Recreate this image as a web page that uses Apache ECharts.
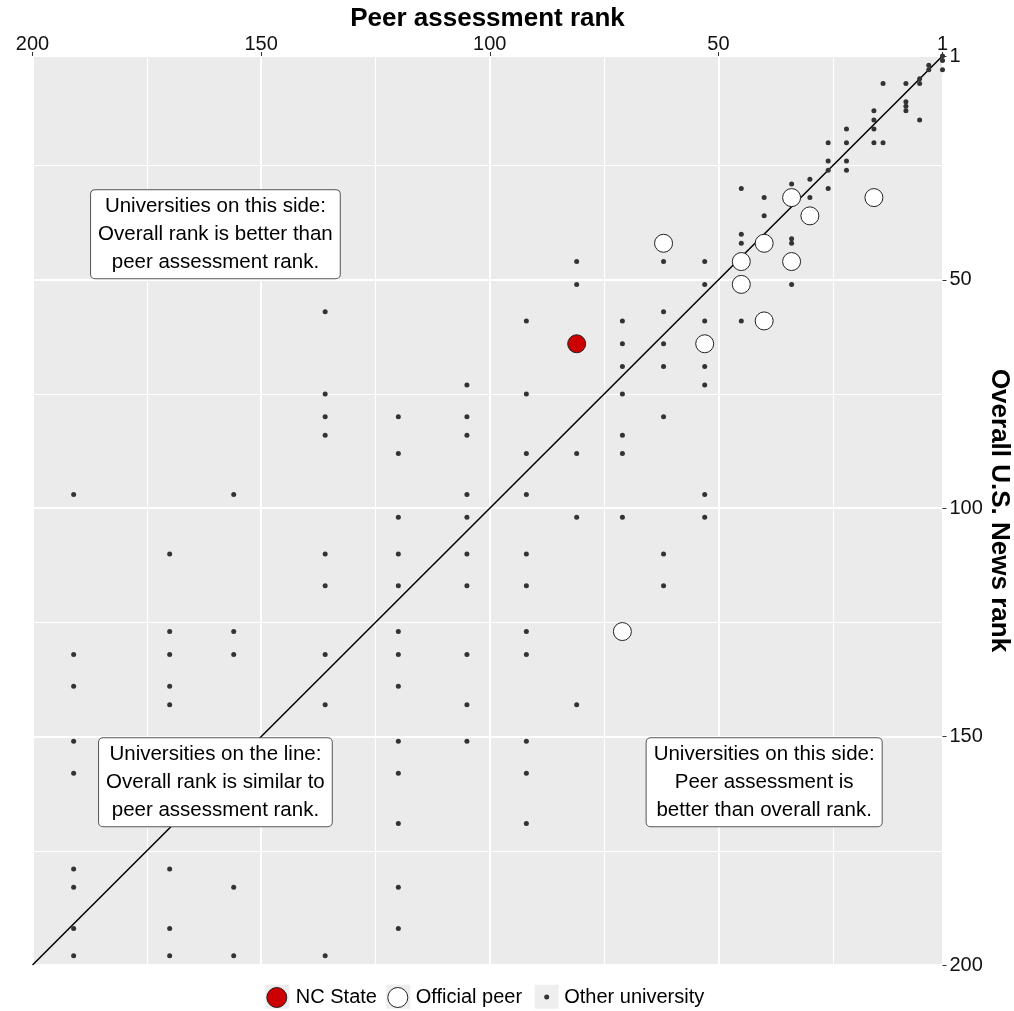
<!DOCTYPE html>
<html><head><meta charset="utf-8">
<script src="https://cdn.jsdelivr.net/npm/echarts@6/dist/echarts.min.js"></script>
<style>html,body{margin:0;padding:0;background:#fff}#chart{width:1014px;height:1011px}</style>
</head><body><div id="chart"></div>
<script>
// ---- data (x = peer assessment rank, y = overall U.S. News rank) ----
const majorTicks = [1, 50, 100, 150, 200];
const minorTicks = [25, 75, 125, 175];
const ncState = [[81, 64]];
const officialPeers = [[34,32],[30,36],[16,32],[62,42],[40,42],[45,46],[34,46],[45,51],[40,59],[53,64],[71,127]];
const otherUniversities = [
  [136,57],[81,46],[81,51],[92,59],[71,59],[71,64],
  [1,1],[1,2],[1,4],[4,3],[4,4],[6,6],[6,7],[9,7],[14,7],[9,11],[9,12],[9,13],[6,15],[16,13],[16,15],[16,17],
  [16,20],[14,20],[22,17],[22,20],[22,24],[22,26],[26,20],[26,24],[26,26],[26,30],[30,28],[30,32],[34,29],
  [45,30],[40,32],[40,36],[45,40],[45,42],[34,41],[34,42],[62,46],[53,46],[53,51],[34,51],[62,57],[53,59],
  [45,59],[62,64],
  [136,75],[136,80],[136,84],[191,97],[156,97],[170,110],[136,110],[136,117],[170,127],[156,127],[191,132],
  [170,132],[156,132],[136,132],
  [71,69],[105,73],[92,75],[71,75],[120,80],[105,80],[105,84],[71,84],[120,88],[92,88],[81,88],[71,88],
  [105,97],[92,97],[120,102],[105,102],[81,102],[71,102],[120,110],[105,110],[92,110],[120,117],[105,117],
  [92,117],[120,127],[92,127],[120,132],[105,132],[92,132],
  [62,69],[53,69],[53,73],[62,80],[53,97],[53,102],[62,110],[62,117],
  [191,139],[170,139],[170,143],[136,143],[191,151],[191,158],[191,179],[170,179],[191,183],[156,183],
  [191,192],[170,192],[191,198],[170,198],[156,198],[136,198],
  [120,139],[105,143],[81,143],[120,151],[105,151],[92,151],[120,158],[92,158],[120,169],[92,169],
  [120,183],[120,192]
];
const diagonal = [[1, 1], [200, 200]];
const noteX = [160, 160, 40];
const noteY = [40, 160, 160];
const noteText = [
  'Universities on this side:\nOverall rank is better than\npeer assessment rank.',
  'Universities on the line:\nOverall rank is similar to\npeer assessment rank.',
  'Universities on this side:\nPeer assessment is\nbetter than overall rank.'
];
const legendNames = ['NC State', 'Official peer', 'Other university'];

// ---- chart ----
const FONT = '"Liberation Sans", Arial, Helvetica, sans-serif';
const chart = echarts.init(document.getElementById('chart'), null, {renderer: 'canvas'});

const notes = noteX.map((x, i) => [x, noteY[i], noteText[i]]);

function legendAt(name, left, top, w, h, style, padLeft) {
  return {
    show: true, data: [name], left: left, top: top, padding: 0,
    itemWidth: w, itemHeight: h, icon: 'circle',
    itemStyle: style,
    textStyle: {fontFamily: FONT, fontSize: 20, color: '#000', padding: [0, 0, 0, padLeft]}
  };
}

const option = {
  animation: false,
  backgroundColor: '#fff',
  textStyle: {fontFamily: FONT},
  grid: {left: 32.5, right: 71.5, top: 56, bottom: 46, show: true,
         backgroundColor: '#EBEBEB', borderWidth: 0, containLabel: false, outerBoundsMode: 'none'},
  legend: [
    legendAt(legendNames[0], 266.3, 987, 22, 20, {color: '#CC0000', borderColor: '#222', borderWidth: 1, opacity: 1}, 3),
    legendAt(legendNames[1], 387.3, 987, 22, 20, {color: '#fff', borderColor: '#222', borderWidth: 1, opacity: 1}, 2),
    legendAt(legendNames[2], 544.2, 987, 5, 5, {color: '#333', borderWidth: 0, opacity: 1}, 10)
  ],
  graphic: [
    {type: 'rect', z: 0, left: 265.3, top: 984.7, shape: {width: 24, height: 24}, style: {fill: '#EEEEEE'}},
    {type: 'rect', z: 0, left: 386.3, top: 984.7, shape: {width: 24, height: 24}, style: {fill: '#EEEEEE'}},
    {type: 'rect', z: 0, left: 534.7, top: 984.7, shape: {width: 24, height: 24}, style: {fill: '#EEEEEE'}}
  ],
  xAxis: [
    {
      type: 'value', position: 'top', inverse: true, min: 1, max: 200,
      name: 'Peer assessment rank', nameLocation: 'middle', nameGap: 24, nameMoveOverlap: false,
      nameTextStyle: {fontFamily: FONT, fontSize: 26, fontWeight: 'bold', color: '#000'},
      axisLine: {show: false},
      axisTick: {show: true, customValues: majorTicks, length: 4, lineStyle: {color: '#333', width: 1}},
      axisLabel: {customValues: majorTicks, fontFamily: FONT, fontSize: 20, color: '#111', margin: 2},
      splitLine: {show: true, lineStyle: {color: '#fff', width: 2}}
    },
    {
      type: 'value', position: 'bottom', inverse: true, min: 1, max: 200,
      axisLine: {show: false},
      axisTick: {show: false, customValues: minorTicks},
      axisLabel: {show: false, customValues: minorTicks},
      splitLine: {show: true, lineStyle: {color: '#fff', width: 1}}
    }
  ],
  yAxis: [
    {
      type: 'value', position: 'right', inverse: true, min: 1, max: 200,
      name: 'Overall U.S. News rank', nameLocation: 'middle', nameGap: 44, nameRotate: -90, nameMoveOverlap: false,
      nameTextStyle: {fontFamily: FONT, fontSize: 26, fontWeight: 'bold', color: '#000'},
      axisLine: {show: false},
      axisTick: {show: true, customValues: majorTicks, length: 4, lineStyle: {color: '#333', width: 1}},
      axisLabel: {customValues: majorTicks, fontFamily: FONT, fontSize: 20, color: '#111', margin: 7},
      splitLine: {show: true, lineStyle: {color: '#fff', width: 2}}
    },
    {
      type: 'value', position: 'left', inverse: true, min: 1, max: 200,
      axisLine: {show: false},
      axisTick: {show: false, customValues: minorTicks},
      axisLabel: {show: false, customValues: minorTicks},
      splitLine: {show: true, lineStyle: {color: '#fff', width: 1}}
    }
  ],
  series: [
    {
      name: 'diagonal', type: 'line', xAxisIndex: 0, yAxisIndex: 0, data: diagonal,
      symbol: 'none', silent: true, z: 2,
      lineStyle: {color: '#000', width: 1.5}
    },
    {
      name: legendNames[2], type: 'scatter', xAxisIndex: 0, yAxisIndex: 0, data: otherUniversities,
      symbol: 'circle', symbolSize: 5, z: 3,
      itemStyle: {color: '#333', opacity: 1}
    },
    {
      name: legendNames[1], type: 'scatter', xAxisIndex: 0, yAxisIndex: 0, data: officialPeers,
      symbol: 'circle', symbolSize: 18, z: 4,
      itemStyle: {color: '#fff', borderColor: '#222', borderWidth: 1, opacity: 1}
    },
    {
      name: legendNames[0], type: 'scatter', xAxisIndex: 0, yAxisIndex: 0, data: ncState,
      symbol: 'circle', symbolSize: 18, z: 5,
      itemStyle: {color: '#CC0000', borderColor: '#222', borderWidth: 1, opacity: 1}
    },
    {
      name: 'notes', type: 'scatter', xAxisIndex: 0, yAxisIndex: 0, data: notes,
      symbol: 'circle', symbolSize: 1, silent: true, z: 10,
      itemStyle: {color: '#fff', opacity: 1},
      label: {
        show: true, position: 'inside',
        formatter: p => p.data[2],
        fontFamily: FONT, fontSize: 20.5, lineHeight: 28, color: '#000',
        align: 'center', verticalAlign: 'middle',
        backgroundColor: '#fff', borderColor: '#555', borderWidth: 1, borderRadius: 4,
        padding: [2, 7]
      }
    }
  ]
};
chart.setOption(option);
</script>
</body></html>
